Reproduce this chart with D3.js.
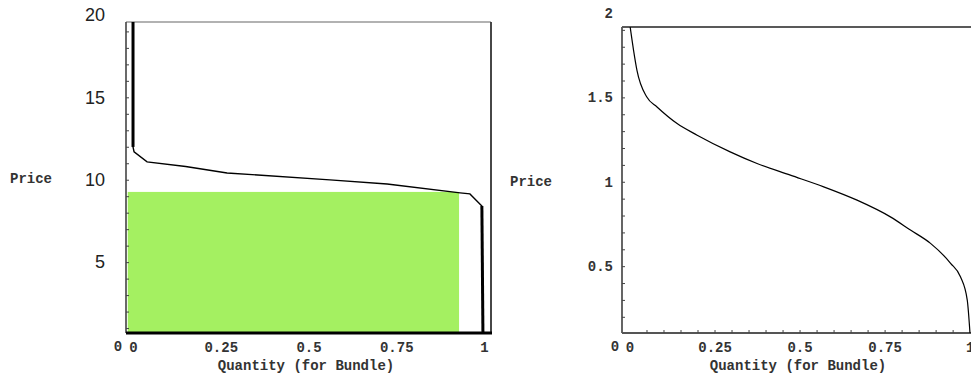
<!DOCTYPE html>
<html><head><meta charset="utf-8">
<script src="https://cdn.jsdelivr.net/npm/d3@7"></script>
<style>
html,body{margin:0;padding:0;background:#fff;}
svg{display:block;}
.mono{font-family:"Liberation Mono","DejaVu Sans Mono",monospace;font-weight:bold;}
.sans{font-family:"Liberation Sans",Arial,sans-serif;}
</style></head>
<body>
<svg id="c" width="971" height="374"></svg>
<script>
// ---------- data ----------
// Left panel: stepped demand for the bundle (quantity, price)
const leftQty   = [0.000, 0.000, 0.003, 0.040, 0.150, 0.268, 0.561, 0.724, 0.932, 0.960, 0.994, 0.997];
const leftPrice = [19.57, 11.99, 11.69, 11.08, 10.80, 10.41, 9.99, 9.74, 9.20, 9.14, 8.41, 0.70];
const bundleQty = 0.929;      // green revenue rectangle
const bundlePrice = 9.26;
const leftYTicks = [5, 10, 15, 20];
const leftYMinor = d3.range(1, 20);
// Right panel: smooth demand for the bundle
const rightQty   = [0.002, 0.012, 0.022, 0.051, 0.081, 0.140, 0.199, 0.296, 0.375, 0.473, 0.571, 0.669, 0.767, 0.826, 0.885, 0.944, 0.973, 0.993, 1.001];
const rightPrice = [1.917, 1.779, 1.660, 1.502, 1.443, 1.345, 1.276, 1.177, 1.108, 1.039, 0.970, 0.891, 0.792, 0.714, 0.635, 0.517, 0.437, 0.299, 0.104];
const rightYTicks = [0.5, 1, 1.5, 2];
const rightYMinor = d3.range(2, 20).map(d => d / 10);
const xTicks = [0, 0.25, 0.5, 0.75, 1];
const xMinorRight = d3.range(1, 20).map(d => d / 20);
const xTitle = "Quantity (for Bundle)";
const yTitle = "Price";

const svg = d3.select("#c");
const fmt = d => String(d);
const TXT = "#333";
const FS = 14;

// ---------- left panel ----------
const L = {x0: 126, x1: 491, y0: 333, y1: 22};
const xL = d3.scaleLinear().domain([-0.02, 1.02]).range([L.x0, L.x1]);
const yL = d3.scaleLinear().domain([0.7, 19.57]).range([L.y0, L.y1]);
const gL = svg.append("g");

gL.append("rect")
  .attr("x", xL(-0.015)).attr("y", yL(bundlePrice))
  .attr("width", xL(bundleQty) - xL(-0.015))
  .attr("height", yL(0.7) - yL(bundlePrice))
  .attr("fill", "#a4f061");

// frame
gL.append("line").attr("x1", L.x0).attr("x2", L.x1).attr("y1", L.y1).attr("y2", L.y1).attr("stroke", "#666").attr("stroke-width", 1.2);
gL.append("line").attr("x1", L.x1).attr("x2", L.x1).attr("y1", L.y1).attr("y2", L.y0).attr("stroke", "#333").attr("stroke-width", 1.8);
gL.append("line").attr("x1", L.x0).attr("x2", L.x0).attr("y1", L.y1).attr("y2", L.y0).attr("stroke", "#444").attr("stroke-width", 1.6);

// minor ticks (inside)
const mL = gL.append("g").attr("transform", `translate(${L.x0},0)`)
  .call(d3.axisRight(yL).tickValues(leftYMinor).tickSize(3).tickFormat(""));
mL.select(".domain").remove();
mL.selectAll("line").attr("stroke", "#444");

// y tick labels (sans)
const aL = gL.append("g").attr("transform", `translate(${L.x0 - 18},0)`)
  .call(d3.axisLeft(yL).tickValues(leftYTicks).tickSize(0).tickFormat(fmt));
aL.select(".domain").remove();
aL.selectAll("text").attr("class", "sans").attr("font-size", 18).attr("fill", "#222");

// curve
const lineL = d3.line().x((d, i) => xL(leftQty[i])).y((d, i) => yL(leftPrice[i]));
gL.append("path").datum(leftQty).attr("d", lineL).attr("fill", "none").attr("stroke", "#000").attr("stroke-width", 1.4);
const n = leftQty.length;
const seg = d3.line().x(i => xL(leftQty[i])).y(i => yL(leftPrice[i]));
gL.append("path").datum([0, 1]).attr("d", seg).attr("stroke", "#000").attr("stroke-width", 3).attr("fill", "none");
gL.append("path").datum([n - 2, n - 1]).attr("d", seg).attr("stroke", "#000").attr("stroke-width", 3).attr("fill", "none");

// bottom axis (thick)
const bL = gL.append("g").attr("transform", `translate(0,${L.y0})`)
  .call(d3.axisBottom(xL).tickValues(xTicks).tickSize(0).tickPadding(9).tickFormat(fmt));
bL.select(".domain").remove();
bL.selectAll("text").attr("class", "mono").attr("font-size", FS).attr("fill", TXT);
gL.append("line").attr("x1", L.x0).attr("x2", L.x1 + 1).attr("y1", L.y0).attr("y2", L.y0).attr("stroke", "#000").attr("stroke-width", 3);
gL.append("text").attr("class", "mono").attr("x", 118).attr("y", 351).attr("text-anchor", "middle").attr("font-size", FS).attr("fill", TXT).text("0");
gL.append("text").attr("class", "mono").attr("x", 306).attr("y", 370).attr("text-anchor", "middle").attr("font-size", FS).attr("fill", TXT).text(xTitle);
gL.append("text").attr("class", "mono").attr("x", 31).attr("y", 183).attr("text-anchor", "middle").attr("font-size", FS).attr("fill", TXT).text(yTitle);

// ---------- right panel ----------
const R = {x0: 622, x1: 971, y0: 333, y1: 27};
const xR = d3.scaleLinear().domain([-0.022, 1.004]).range([R.x0, R.x1]);
const yR = d3.scaleLinear().domain([0.104, 1.917]).range([R.y0, R.y1]);
const gR = svg.append("g");

gR.append("line").attr("x1", R.x0).attr("x2", R.x1).attr("y1", R.y1).attr("y2", R.y1).attr("stroke", "#222").attr("stroke-width", 1.5);
gR.append("line").attr("x1", R.x0).attr("x2", R.x0).attr("y1", R.y1).attr("y2", R.y0).attr("stroke", "#555").attr("stroke-width", 1.8);
gR.append("line").attr("x1", R.x0).attr("x2", R.x1).attr("y1", R.y0).attr("y2", R.y0).attr("stroke", "#555").attr("stroke-width", 1.8);

const mR = gR.append("g").attr("transform", `translate(${R.x0},0)`)
  .call(d3.axisRight(yR).tickValues(rightYMinor).tickSize(3).tickFormat(""));
mR.select(".domain").remove();
mR.selectAll("line").attr("stroke", "#444");
const mRx = gR.append("g").attr("transform", `translate(0,${R.y0})`)
  .call(d3.axisTop(xR).tickValues(xMinorRight).tickSize(3).tickFormat(""));
mRx.select(".domain").remove();
mRx.selectAll("line").attr("stroke", "#444");

const aR = gR.append("g").attr("transform", `translate(${R.x0 - 6},0)`)
  .call(d3.axisLeft(yR).tickValues(rightYTicks).tickSize(0).tickFormat(fmt));
aR.select(".domain").remove();
aR.selectAll("text").attr("class", "mono").attr("font-size", FS).attr("fill", TXT);

const bR = gR.append("g").attr("transform", `translate(0,${R.y0})`)
  .call(d3.axisBottom(xR).tickValues(xTicks).tickSize(0).tickPadding(9).tickFormat(fmt));
bR.select(".domain").remove();
bR.selectAll("text").attr("class", "mono").attr("font-size", FS).attr("fill", TXT);

const lineR = d3.line().x((d, i) => xR(rightQty[i])).y((d, i) => yR(rightPrice[i])).curve(d3.curveMonotoneX);
gR.append("path").datum(rightQty).attr("d", lineR).attr("fill", "none").attr("stroke", "#000").attr("stroke-width", 1.2);

gR.append("text").attr("class", "mono").attr("x", 615).attr("y", 351).attr("text-anchor", "middle").attr("font-size", FS).attr("fill", TXT).text("0");
gR.append("text").attr("class", "mono").attr("x", 798).attr("y", 370).attr("text-anchor", "middle").attr("font-size", FS).attr("fill", TXT).text(xTitle);
gR.append("text").attr("class", "mono").attr("x", 531).attr("y", 186).attr("text-anchor", "middle").attr("font-size", FS).attr("fill", TXT).text(yTitle);
</script>
</body></html>
